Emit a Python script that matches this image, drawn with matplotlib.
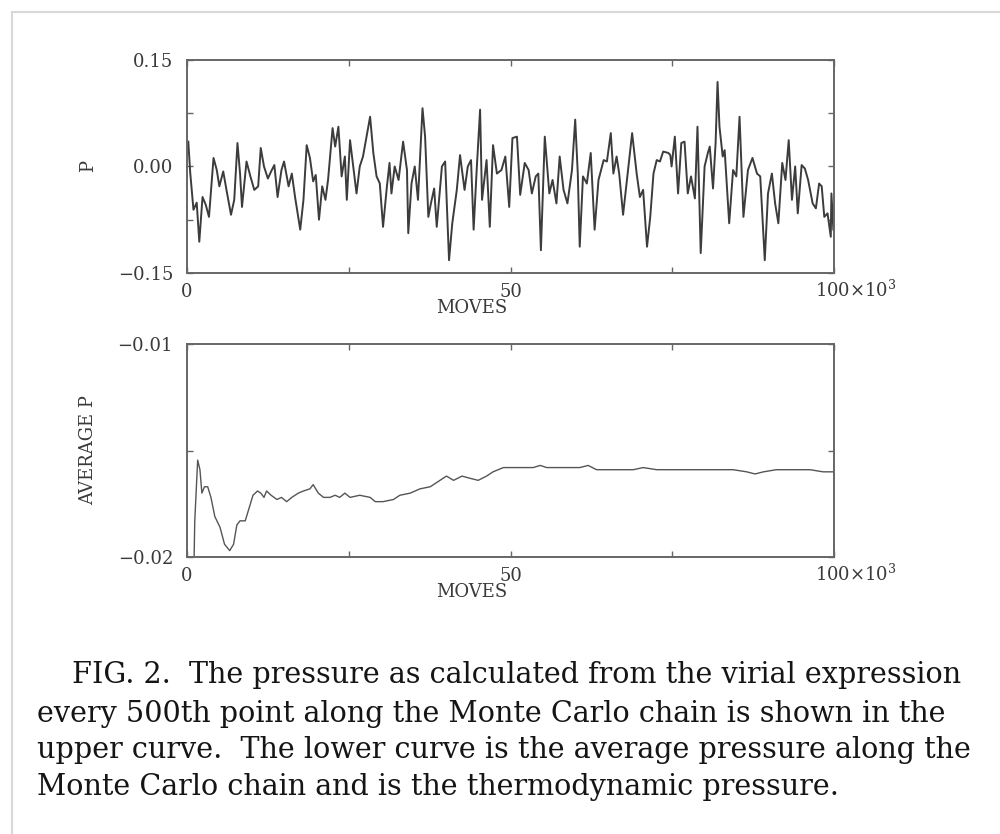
import matplotlib
matplotlib.use('Agg')
import matplotlib.pyplot as plt
from matplotlib.lines import Line2D

# upper curve: virial pressure every 500th point (moves in units of 10^3)
p_moves = [0.2, 0.5, 1.0, 1.5, 1.9, 2.4, 2.9, 3.4, 4.1, 4.6, 5.0, 5.6, 6.1, 6.8, 7.3, 7.8, 8.2, 8.5, 9.2, 9.8,
           10.4, 11.0, 11.4, 11.9, 12.5, 13.0, 13.5, 14.0, 14.6, 15.0, 15.7, 16.2, 16.7, 17.5, 18.0, 18.5, 19.0, 19.5, 19.9,
           20.4, 20.9, 21.4, 21.8, 22.5, 22.9, 23.4, 23.9, 24.4, 24.7, 25.2, 25.7, 26.2, 26.7, 27.2, 28.3, 28.8, 29.3, 29.8,
           30.3, 30.9, 31.3, 31.6, 32.1, 32.7, 33.4, 34.0, 34.2, 34.7, 35.2, 35.7, 36.4, 36.8, 37.3, 37.7, 38.2, 38.6, 39.4, 39.9,
           40.5, 41.0, 41.7, 42.2, 42.9, 43.4, 43.9, 44.3, 44.8, 45.3, 45.6, 46.3, 46.8, 47.3, 47.9, 48.6, 49.2, 49.8,
           50.3, 51.0, 51.5, 52.2, 52.8, 53.3, 53.9, 54.3, 54.7, 55.3, 56.0, 56.5, 57.1, 57.6, 58.2, 58.8, 59.5,
           60.0, 60.4, 60.7, 61.2, 61.8, 62.4, 63.0, 63.6, 64.4, 64.9, 65.5, 65.9, 66.4, 66.8, 67.4, 68.1, 68.8, 69.5,
           70.0, 70.5, 71.1, 71.6, 72.1, 72.6, 73.1, 73.6, 74.4, 74.7, 74.9, 75.4, 75.9, 76.4, 76.9, 77.4, 77.9, 78.5, 78.9, 79.4,
           80.0, 80.5, 80.8, 81.3, 81.7, 82.0, 82.3, 82.8, 83.1, 83.8, 84.4, 84.9, 85.4, 86.0, 86.7, 87.4, 88.1, 88.6, 89.3, 89.8,
           90.4, 90.9, 91.4, 92.0, 92.5, 93.0, 93.5, 94.0, 94.4, 95.0, 95.5, 96.0, 96.7, 97.2, 97.7, 98.1, 98.5, 99.0, 99.5, 99.6, 99.9]
p_vals = [0.035, -0.009, -0.061, -0.051, -0.106, -0.043, -0.054, -0.071, 0.012, -0.005, -0.028, -0.007, -0.033, -0.068, -0.047, 0.033, -0.010, -0.057, 0.007, -0.014,
          -0.033, -0.028, 0.026, 0.000, -0.017, -0.007, 0.002, -0.043, -0.005, 0.007, -0.028, -0.010, -0.043, -0.089, -0.047, 0.030, 0.012, -0.021, -0.012,
          -0.075, -0.028, -0.047, -0.019, 0.054, 0.028, 0.056, -0.014, 0.014, -0.047, 0.037, 0.000, -0.038, 0.000, 0.014, 0.070, 0.019, -0.014, -0.024,
          -0.085, -0.028, 0.005, -0.038, 0.000, -0.019, 0.035, -0.005, -0.094, -0.024, 0.000, -0.047, 0.082, 0.042, -0.071, -0.052, -0.031, -0.085, 0.000, 0.007,
          -0.132, -0.080, -0.033, 0.016, -0.033, 0.000, 0.009, -0.089, 0.000, 0.080, -0.047, 0.009, -0.085, 0.030, -0.010, -0.005, 0.014, -0.057,
          0.040, 0.042, -0.040, 0.005, -0.005, -0.038, -0.014, -0.010, -0.118, 0.042, -0.038, -0.019, -0.052, 0.014, -0.033, -0.052, -0.005,
          0.066, -0.010, -0.113, -0.014, -0.024, 0.019, -0.089, -0.019, 0.009, 0.007, 0.047, -0.010, 0.014, -0.010, -0.068, -0.010, 0.047, -0.010,
          -0.043, -0.033, -0.113, -0.071, -0.010, 0.009, 0.007, 0.021, 0.019, 0.016, 0.000, 0.042, -0.038, 0.033, 0.035, -0.038, -0.014, -0.045, 0.056, -0.122,
          0.000, 0.019, 0.028, -0.031, 0.033, 0.119, 0.056, 0.014, 0.023, -0.080, -0.005, -0.014, 0.070, -0.071, -0.005, 0.012, -0.010, -0.014, -0.132, -0.038,
          -0.010, -0.052, -0.080, 0.005, -0.019, 0.037, -0.047, 0.000, -0.066, 0.002, -0.003, -0.019, -0.052, -0.059, -0.024, -0.028, -0.071, -0.066, -0.099, -0.038, -0.089]

# lower curve: running average of P along the chain
avg_moves = [1.0, 1.1, 1.2, 1.65, 2.0, 2.3, 2.7, 3.2, 3.7, 4.3, 5.1, 5.8, 6.6, 7.2, 7.7, 8.2, 9.0, 9.7,
             10.2, 10.9, 11.4, 11.9, 12.3, 13.0, 13.9, 14.6, 15.4, 16.2, 17.2, 18.0, 19.0, 19.5,
             20.3, 21.1, 22.1, 22.9, 23.6, 24.4, 25.2, 26.7, 28.3, 29.1, 30.3, 31.9, 32.9, 34.5, 36.0, 37.6, 39.1,
             40.1, 41.2, 42.5, 43.7, 45.0, 46.3, 47.3, 48.9, 50.4, 52.5, 53.5, 54.6, 55.6, 56.6, 58.7,
             60.7, 62.0, 63.3, 64.9, 66.9, 69.0, 70.5, 72.6, 75.2, 78.3, 81.3, 84.4, 86.5, 87.8, 89.1,
             91.1, 93.7, 96.3, 98.3, 99.9]
avg_vals = [-0.0205, -0.0200, -0.0183, -0.01545, -0.0159, -0.0170, -0.0167, -0.0167, -0.0172, -0.0181, -0.0186, -0.0194, -0.0197, -0.0194, -0.0185, -0.0183, -0.0183, -0.0176,
            -0.0171, -0.0169, -0.0170, -0.0172, -0.0169, -0.0171, -0.0173, -0.0172, -0.0174, -0.0172, -0.0170, -0.0169, -0.0168, -0.0166,
            -0.0170, -0.0172, -0.0172, -0.0171, -0.0172, -0.0170, -0.0172, -0.0171, -0.0172, -0.0174, -0.0174, -0.0173, -0.0171, -0.0170, -0.0168, -0.0167, -0.0164,
            -0.0162, -0.0164, -0.0162, -0.0163, -0.0164, -0.0162, -0.0160, -0.0158, -0.0158, -0.0158, -0.0158, -0.0157, -0.0158, -0.0158, -0.0158,
            -0.0158, -0.0157, -0.0159, -0.0159, -0.0159, -0.0159, -0.0158, -0.0159, -0.0159, -0.0159, -0.0159, -0.0159, -0.0160, -0.0161, -0.0160,
            -0.0159, -0.0159, -0.0159, -0.0160, -0.0160]

x_ticks = [0, 25, 50, 75, 100]
x_labels = ['0', '', '50', '', '']
p_ticks = [-0.15, -0.075, 0.0, 0.075, 0.15]
p_labels = ['\u22120.15', '', '0.00', '', '0.15']
avg_ticks = [-0.02, -0.015, -0.01]
avg_labels = ['\u22120.02', '', '\u22120.01']

caption = ['FIG. 2.  The pressure as calculated from the virial expression',
           'every 500th point along the Monte Carlo chain is shown in the',
           'upper curve.  The lower curve is the average pressure along the',
           'Monte Carlo chain and is the thermodynamic pressure.']

plt.rcParams['font.family'] = 'DejaVu Serif'
plt.rcParams['mathtext.fontset'] = 'dejavuserif'
txt = '#3a3a3a'
spine = '#666666'

fig = plt.figure(figsize=(10, 8.34), dpi=100)

ax1 = fig.add_axes([0.187, 0.6727, 0.647, 0.2554])
ax2 = fig.add_axes([0.187, 0.3321, 0.647, 0.2554])

ax1.plot(p_moves, p_vals, color='#3c3c3c', lw=1.4)
ax2.plot(avg_moves, avg_vals, color='#555555', lw=1.0)

ax1.set_ylim(-0.15, 0.15)
ax1.set_yticks(p_ticks, p_labels)
ax2.set_ylim(-0.02, -0.01)
ax2.set_yticks(avg_ticks, avg_labels)

for ax, ylab in [(ax1, 'P'), (ax2, 'AVERAGE P')]:
    ax.set_xlim(0, 100)
    ax.set_xticks(x_ticks, x_labels)
    ax.tick_params(direction='in', length=4, width=1, color=spine, top=True, right=True,
                   labelsize=13, labelcolor=txt, pad=7)
    ax.tick_params(axis='y', pad=10)
    for s in ax.spines.values():
        s.set_color(spine)
        s.set_linewidth(1.4)
    ax.text(-0.153, 0.5, ylab, rotation=90, ha='center', va='center', fontsize=13,
            color=txt, transform=ax.transAxes)
    ax.text(0.44, -0.165, 'MOVES', ha='center', va='center', fontsize=13,
            color=txt, transform=ax.transAxes)
    ax.text(0.97, -0.08, '100\u00d710$^3$', ha='left', va='center', fontsize=13,
            color=txt, transform=ax.transAxes)

# caption below the figure
cap_y = [0.181, 0.134, 0.091, 0.047]
cap_x = [0.072, 0.037, 0.037, 0.037]
for s, x, y in zip(caption, cap_x, cap_y):
    fig.text(x, y, s, fontsize=20.6, family='DejaVu Serif', color='#151515', va='baseline')

# faint scan border
fig.add_artist(Line2D([0.012, 0.012], [0, 0.9856], color='#d8d8d8', lw=1.5))
fig.add_artist(Line2D([0.012, 1], [0.9856, 0.9856], color='#d8d8d8', lw=1.5))

fig.savefig('out.png', dpi=100)
